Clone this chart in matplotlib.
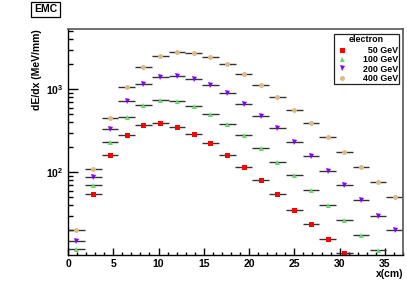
import numpy as np
import matplotlib
matplotlib.use("Agg")
import matplotlib.pyplot as plt
from matplotlib.ticker import MultipleLocator, LogLocator, FixedLocator, FixedFormatter, NullFormatter

plt.rcParams['font.family'] = ['Liberation Sans', 'DejaVu Sans']
plt.rcParams['font.weight'] = 'bold'
plt.rcParams['mathtext.fontset'] = 'custom'
plt.rcParams['mathtext.rm'] = 'Liberation Sans:bold'
plt.rcParams['mathtext.it'] = 'Liberation Sans:bold'
plt.rcParams['mathtext.bf'] = 'Liberation Sans:bold'

# 20 bins of 1.85 cm between 0 and 37 cm
bin_width = 1.85
x = np.arange(20) * bin_width + bin_width / 2

nan = np.nan
e50 = [nan, 55.2, 160, 284, 371, 389, 354, 292, 225, 163,
       117, 80, 54.3, 35.4, 23.6, 15.6, 10.6, nan, nan, nan]
e100 = [11.8, 70.9, 232, 460, 647, 743, 729, 634, 504, 385,
        281, 198, 134, 92, 61.2, 40.7, 26.6, 17.4, 11.5, nan]
e200 = [15.0, 88.5, 330, 729, 1149, 1395, 1459, 1343, 1127, 895,
        671, 481, 339, 230, 158, 104, 70.3, 46, 30, 20.2]
e400 = [20.2, 109.6, 447, 1075, 1872, 2540, 2813, 2736, 2430, 2000,
        1542, 1136, 815, 568, 389, 264, 176, 117, 76.4, 50.4]

labels = ["50 GeV", "100 GeV", "200 GeV", "400 GeV"]
markers = ['s', '^', 'v', 'o']
colors = ['#ff0000', '#66d966', '#8a00ff', '#dfb886']

fig = plt.figure(figsize=(4.07, 2.84), dpi=100)
ax = fig.add_axes([68 / 407, (284 - 255) / 284, (403 - 68) / 407, (255 - 29) / 284])

handles = []
for vals, m, c in zip([e50, e100, e200, e400], markers, colors):
    cont = ax.errorbar(x, vals, xerr=bin_width / 2, fmt=m, color=c, ms=3.6, mew=0,
                       ecolor='#333333', elinewidth=1.0, capsize=0)
    handles.append(cont[0])

ax.set_yscale('log')
ax.set_xlim(0, 37)
ax.set_ylim(10.1, 5300)

ax.xaxis.set_major_locator(MultipleLocator(5))
ax.xaxis.set_minor_locator(MultipleLocator(1))
ax.yaxis.set_major_locator(FixedLocator([100, 1000]))
ax.yaxis.set_major_formatter(FixedFormatter([r'$10^{2}$', r'$10^{3}$']))
ax.yaxis.set_minor_locator(LogLocator(base=10, subs=np.arange(2, 10)))
ax.yaxis.set_minor_formatter(NullFormatter())

ax.tick_params(axis='x', which='major', direction='in', length=5, width=1, labelsize=7.5, pad=3)
ax.tick_params(axis='x', which='minor', direction='in', length=2.5, width=1)
ax.tick_params(axis='y', which='major', direction='in', length=7, width=1, labelsize=7.5, pad=3)
ax.tick_params(axis='y', which='minor', direction='in', length=3.6, width=1)

for s in ['left', 'bottom']:
    ax.spines[s].set_color('black')
    ax.spines[s].set_linewidth(1.0)
for s in ['top', 'right']:
    ax.spines[s].set_color('#555555')
    ax.spines[s].set_linewidth(1.2)

ax.set_ylabel('dE/dx (MeV/mm)', fontsize=7.5, fontweight='bold', loc='top', labelpad=3)
ax.set_xlabel('x(cm)', fontsize=7.5, fontweight='bold', loc='right', labelpad=0)

leg_labels = ['\u2007' + labels[0]] + labels[1:]
leg = ax.legend(handles, leg_labels, title='electron', loc='upper right',
                bbox_to_anchor=(0.988, 0.978),
                fontsize=6.4, title_fontsize=6.4, frameon=True, fancybox=False,
                edgecolor='#222222', framealpha=1, borderpad=0.15, labelspacing=0.05,
                handlelength=1.5, handletextpad=1.6, borderaxespad=0, numpoints=1)
leg._legend_box.sep = 1
leg.get_frame().set_linewidth(0.9)
leg.get_title().set_fontweight('bold')
for t in leg.get_texts():
    t.set_fontweight('bold')

fig.text(45.5 / 407, 1 - 9.3 / 284, 'EMC', fontsize=7.5, fontweight='bold', ha='center', va='center',
         bbox=dict(boxstyle='square,pad=0.25', fc='white', ec='black', lw=0.9))

fig.savefig('out.png', dpi=100)
